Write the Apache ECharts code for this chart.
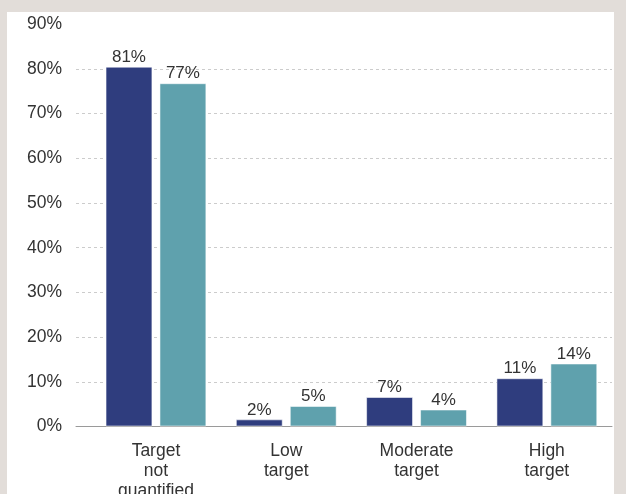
<!DOCTYPE html>
<html>
<head>
<meta charset="utf-8">
<script src="https://cdn.jsdelivr.net/npm/echarts@6/dist/echarts.min.js"></script>
<style>
html,body{margin:0;padding:0;width:626px;height:494px;background:#e2ddd9;overflow:hidden;}
#main{position:absolute;left:7px;top:12px;width:607px;height:482px;background:#ffffff;}
</style>
</head>
<body>
<div id="main"></div>
<script>
var categories = ['Target\nnot\nquantified', 'Low\ntarget', 'Moderate\ntarget', 'High\ntarget'];
var seriesA = [80.5, 1.6, 6.6, 10.8];
var seriesB = [76.8, 4.6, 3.8, 14.1];
var yTicks = [0, 10, 20, 30, 40, 50, 60, 70, 80, 90];

var chart = echarts.init(document.getElementById('main'), null, {renderer: 'canvas'});
var font = 'Liberation Sans, Arial, sans-serif';
var gridColors = yTicks.map(function (v) { return v === 90 ? 'rgba(0,0,0,0)' : '#cccccc'; });

function labelCfg() {
  return {
    show: true, position: 'top', distance: 1,
    fontFamily: font, fontSize: 17, color: '#333',
    formatter: function (p) { return Math.round(p.value) + '%'; }
  };
}

chart.setOption({
  animation: false,
  grid: [
    {left: 69, right: 2, top: 12.2, bottom: 67.5, containLabel: false, outerBoundsMode: 'none'},
    {left: 83.8, right: 2, top: 12.2, bottom: 67.5, containLabel: false, outerBoundsMode: 'none'}
  ],
  xAxis: [
    {gridIndex: 0, type: 'category', data: categories,
      axisLine: {show: true, lineStyle: {color: '#9a9a9a', width: 1}},
      axisTick: {show: false}, axisLabel: {show: false}, splitLine: {show: false}},
    {gridIndex: 1, type: 'category', data: categories,
      axisLine: {show: false}, axisTick: {show: false},
      axisLabel: {fontFamily: font, fontSize: 17.5, color: '#333', margin: 15, lineHeight: 20, interval: 0}}
  ],
  yAxis: [
    {gridIndex: 0, type: 'value', min: 0, max: 90, interval: 10,
      axisLine: {show: false}, axisTick: {show: false},
      axisLabel: {fontFamily: font, fontSize: 17.5, color: '#333', margin: 14,
        formatter: function (v) { return v + '%'; }},
      splitLine: {show: true, lineStyle: {type: [3, 3], color: gridColors, width: 1}}},
    {gridIndex: 1, type: 'value', min: 0, max: 90, interval: 10,
      axisLine: {show: false}, axisTick: {show: false}, axisLabel: {show: false},
      splitLine: {show: false}}
  ],
  series: [
    {type: 'bar', xAxisIndex: 1, yAxisIndex: 1, data: seriesA, barWidth: '36%', barGap: '15%',
      itemStyle: {color: '#2f3d7e', borderColor: 'rgba(255,255,255,0.55)', borderWidth: 1},
      label: labelCfg()},
    {type: 'bar', xAxisIndex: 1, yAxisIndex: 1, data: seriesB, barWidth: '36%', barGap: '15%',
      itemStyle: {color: '#5fa1ad', borderColor: 'rgba(255,255,255,0.55)', borderWidth: 1},
      label: labelCfg()}
  ]
});
</script>
</body>
</html>
